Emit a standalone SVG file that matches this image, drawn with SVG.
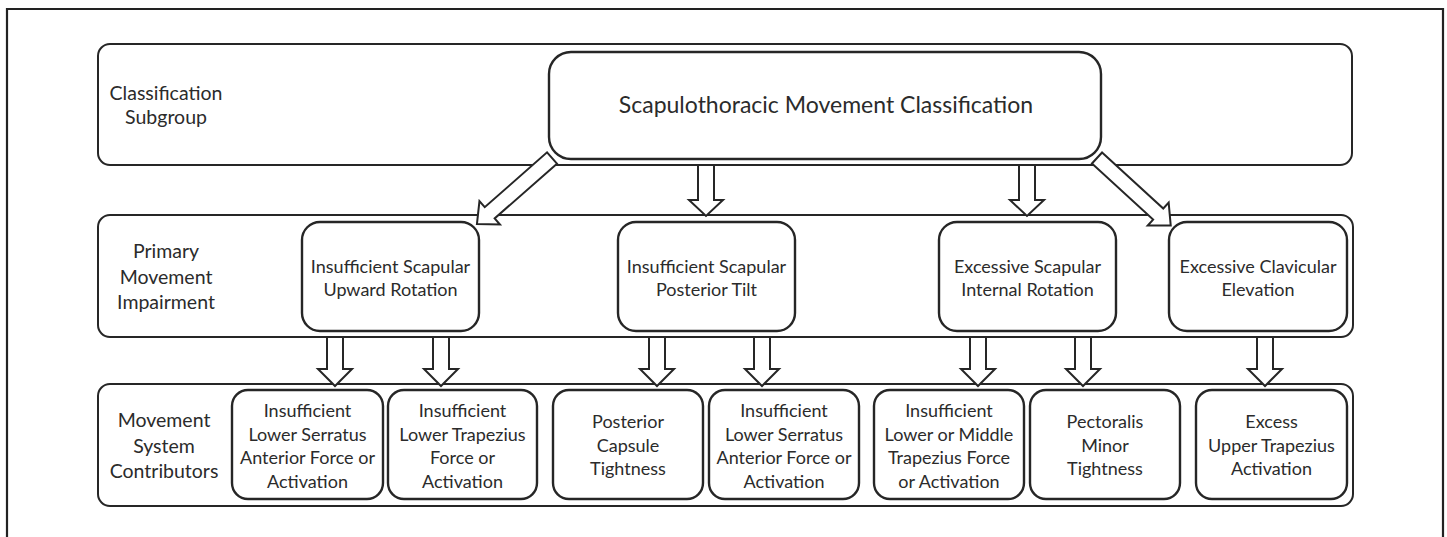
<svg xmlns="http://www.w3.org/2000/svg" width="1447" height="537" viewBox="0 0 1447 537">
<style>
.frame{fill:none;stroke:#222;stroke-width:2.2}
.band{fill:#fff;stroke:#262626;stroke-width:2}
.box{fill:#fff;stroke:#262626;stroke-width:2.4}
.arrow{fill:#fff;stroke:#262626;stroke-width:2;stroke-linejoin:miter}
text{font-family:Lato,"Open Sans","Liberation Sans",sans-serif;fill:#2b2b2b;text-anchor:middle}
.lbl{font-size:19.5px}
.t{font-size:18px}
.title{font-size:23px}
</style>
<rect x="0" y="0" width="1447" height="537" fill="#fff"/>
<path class="frame" d="M7,545 V9 H1443 V545"/>

<g id="band-classification">
<rect class="band" x="98" y="44" width="1254" height="121" rx="12"/>
<text class="lbl" x="166" y="100">Classification</text>
<text class="lbl" x="166" y="124">Subgroup</text>
</g>
<g id="band-primary">
<rect class="band" x="98" y="215" width="1255" height="122" rx="12"/>
<text class="lbl" x="166" y="258">Primary</text>
<text class="lbl" x="166" y="283.5">Movement</text>
<text class="lbl" x="166" y="309">Impairment</text>
</g>
<g id="band-contributors">
<rect class="band" x="98" y="384" width="1255" height="122" rx="12"/>
<text class="lbl" x="164" y="427">Movement</text>
<text class="lbl" x="164" y="452.5">System</text>
<text class="lbl" x="164" y="478">Contributors</text>
</g>

<g id="node-root">
<rect class="box" x="549" y="52" width="552" height="107" rx="22"/>
<text class="title" x="826" y="113">Scapulothoracic Movement Classification</text>
</g>

<g id="node-upward-rotation">
<rect class="box" x="302" y="222" width="177" height="109" rx="18"/>
<text class="t" x="390.5" y="272.5">Insufficient Scapular</text>
<text class="t" x="390.5" y="296">Upward Rotation</text>
</g>
<g id="node-posterior-tilt">
<rect class="box" x="618" y="222" width="177" height="109" rx="18"/>
<text class="t" x="706.5" y="272.5">Insufficient Scapular</text>
<text class="t" x="706.5" y="296">Posterior Tilt</text>
</g>
<g id="node-internal-rotation">
<rect class="box" x="939" y="222" width="177" height="109" rx="18"/>
<text class="t" x="1027.5" y="272.5">Excessive Scapular</text>
<text class="t" x="1027.5" y="296">Internal Rotation</text>
</g>
<g id="node-clavicular-elevation">
<rect class="box" x="1169" y="222" width="178" height="109" rx="18"/>
<text class="t" x="1258" y="272.5">Excessive Clavicular</text>
<text class="t" x="1258" y="296">Elevation</text>
</g>

<g id="node-c1">
<rect class="box" x="232" y="390" width="151" height="109" rx="16"/>
<text class="t" x="307.5" y="417">Insufficient</text>
<text class="t" x="307.5" y="440.5">Lower Serratus</text>
<text class="t" x="307.5" y="464">Anterior Force or</text>
<text class="t" x="307.5" y="487.5">Activation</text>
</g>
<g id="node-c2">
<rect class="box" x="388" y="390" width="149" height="109" rx="16"/>
<text class="t" x="462.5" y="417">Insufficient</text>
<text class="t" x="462.5" y="440.5">Lower Trapezius</text>
<text class="t" x="462.5" y="464">Force or</text>
<text class="t" x="462.5" y="487.5">Activation</text>
</g>
<g id="node-c3">
<rect class="box" x="553" y="390" width="150" height="109" rx="16"/>
<text class="t" x="628" y="428">Posterior</text>
<text class="t" x="628" y="451.5">Capsule</text>
<text class="t" x="628" y="475">Tightness</text>
</g>
<g id="node-c4">
<rect class="box" x="709" y="390" width="150" height="109" rx="16"/>
<text class="t" x="784" y="417">Insufficient</text>
<text class="t" x="784" y="440.5">Lower Serratus</text>
<text class="t" x="784" y="464">Anterior Force or</text>
<text class="t" x="784" y="487.5">Activation</text>
</g>
<g id="node-c5">
<rect class="box" x="874" y="390" width="150" height="109" rx="16"/>
<text class="t" x="949" y="417">Insufficient</text>
<text class="t" x="949" y="440.5">Lower or Middle</text>
<text class="t" x="949" y="464">Trapezius Force</text>
<text class="t" x="949" y="487.5">or Activation</text>
</g>
<g id="node-c6">
<rect class="box" x="1030" y="390" width="150" height="109" rx="16"/>
<text class="t" x="1105" y="428">Pectoralis</text>
<text class="t" x="1105" y="451.5">Minor</text>
<text class="t" x="1105" y="475">Tightness</text>
</g>
<g id="node-c7">
<rect class="box" x="1196" y="390" width="151" height="109" rx="16"/>
<text class="t" x="1271.5" y="428">Excess</text>
<text class="t" x="1271.5" y="451.5">Upper Trapezius</text>
<text class="t" x="1271.5" y="475">Activation</text>
</g>

<g id="connectors">
<polygon class="arrow" transform="translate(552,158) rotate(138.65)" points="0,-7.5 83,-7.5 83,-15.5 100,0 83,15.5 83,7.5 0,7.5"/>
<polygon class="arrow" transform="translate(1097,158) rotate(42.5)" points="0,-7.5 83,-7.5 83,-15.5 100,0 83,15.5 83,7.5 0,7.5"/>
<polygon class="arrow" points="698,165 714,165 714,200 723,200 706,216 689,200 698,200"/>
<polygon class="arrow" points="1019,165 1035,165 1035,200 1044,200 1027,216 1010,200 1019,200"/>
<polygon class="arrow" points="327,337 343,337 343,369 352,369 335,386 318,369 327,369"/>
<polygon class="arrow" points="433,337 449,337 449,369 458,369 441,386 424,369 433,369"/>
<polygon class="arrow" points="649,337 665,337 665,369 674,369 657,386 640,369 649,369"/>
<polygon class="arrow" points="754,337 770,337 770,369 779,369 762,386 745,369 754,369"/>
<polygon class="arrow" points="970,337 986,337 986,369 995,369 978,386 961,369 970,369"/>
<polygon class="arrow" points="1075,337 1091,337 1091,369 1100,369 1083,386 1066,369 1075,369"/>
<polygon class="arrow" points="1257,337 1273,337 1273,369 1282,369 1265,386 1248,369 1257,369"/>
</g>
</svg>
